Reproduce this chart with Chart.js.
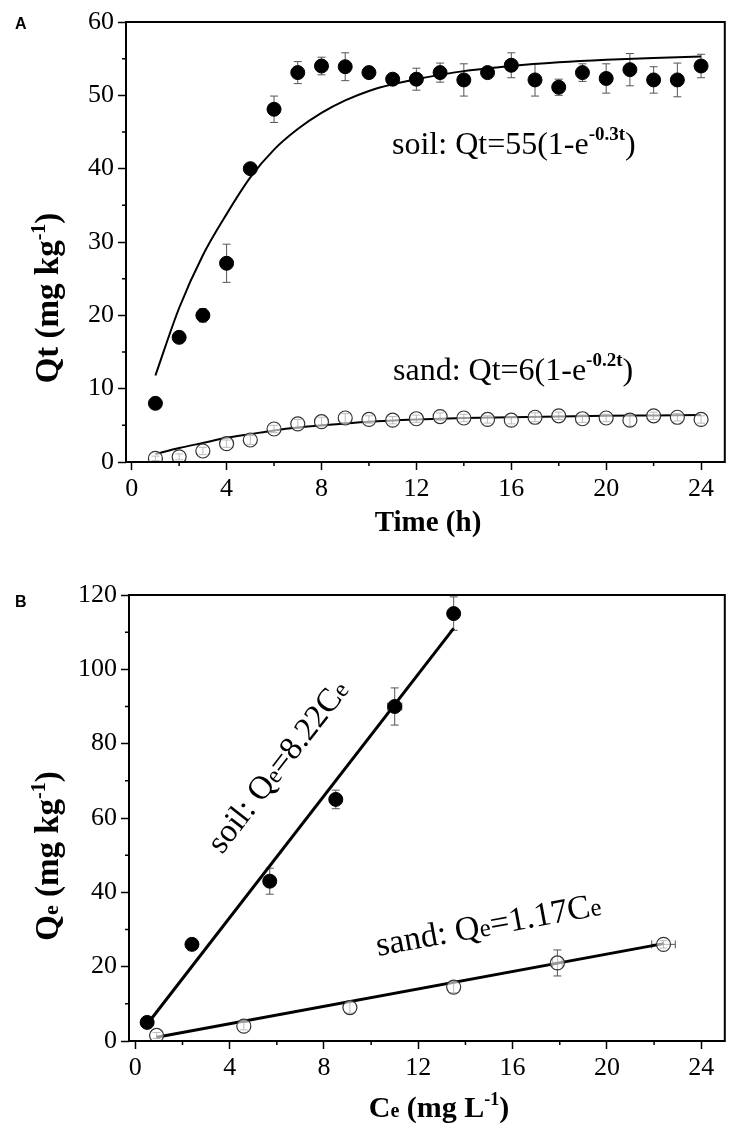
<!DOCTYPE html>
<html>
<head>
<meta charset="utf-8">
<script src="https://cdn.jsdelivr.net/npm/chart.js@4.4.1/dist/chart.umd.min.js"></script>
<style>
  body { margin: 0; background: #fff; }
  #wrap { position: relative; width: 733px; height: 1130px; }
  canvas { position: absolute; left: 0; }
  #chartA { top: 0; }
  #chartB { top: 570px; }
</style>
</head>
<body>
<div id="wrap">
  <canvas id="chartA" width="733" height="570"></canvas>
  <canvas id="chartB" width="733" height="560"></canvas>
</div>
<script>
// ---- panel A: adsorption kinetics ----
const timeH = [1, 2, 3, 4, 5, 6, 7, 8, 9, 10, 11, 12, 13, 14, 15, 16, 17, 18, 19, 20, 21, 22, 23, 24];
const soilQt = [8, 17, 20, 27.1, 40, 48.1, 53.1, 54, 53.9, 53.1, 52.2, 52.2, 53.1, 52.1, 53.1, 54.1, 52.1, 51.1, 53.1, 52.3, 53.5, 52.1, 52.1, 54];
const soilQtErr = [0.4, 0.7, 0.9, 2.6, 0.4, 1.8, 1.5, 1.2, 1.9, 0.6, 0.7, 1.5, 1.3, 2.2, 0.5, 1.7, 2.2, 1.1, 1.2, 2, 2.2, 1.8, 2.3, 1.6];
const sandQt = [0.5, 0.7, 1.5, 2.5, 3, 4.5, 5.2, 5.5, 6, 5.8, 5.7, 5.9, 6.2, 6, 5.8, 5.7, 6.1, 6.3, 5.9, 6, 5.7, 6.3, 6.1, 5.8];
const sandQtErr = [0.3, 0.4, 0.5, 0.5, 0.6, 0.5, 0.6, 0.6, 0.6, 0.5, 0.5, 0.5, 0.5, 0.5, 0.5, 0.5, 0.6, 0.5, 0.5, 0.5, 0.8, 0.5, 0.5, 0.5];
// fitted curves
const soilFitT = [1, 2, 3, 4, 5, 6, 7, 8, 9, 10, 11, 12, 14, 16, 18, 20, 22, 24];
const soilFitQt = [11.8, 21, 28.2, 33.8, 38.8, 42.6, 45.4, 47.6, 49.3, 50.6, 51.5, 52.2, 53.3, 54, 54.5, 54.85, 55.1, 55.3];
const sandFitT = [1, 2, 3, 4, 5, 6, 7, 8, 10, 12, 14, 16, 18, 20, 22, 24];
const sandFitQt = [1.1, 1.9, 2.6, 3.3, 3.8, 4.3, 4.7, 5, 5.5, 5.8, 6, 6.1, 6.2, 6.3, 6.35, 6.4];
const xTicksA = [0, 4, 8, 12, 16, 20, 24];
const yTicksA = [0, 10, 20, 30, 40, 50, 60];

// ---- panel B: adsorption isotherm ----
const soilCe = [0.5, 2.4, 5.7, 8.5, 11, 13.5];
const soilQe = [5, 26, 43, 65, 90, 115];
const soilQeErr = [0.8, 1.2, 3.5, 2.5, 5, 4.5];
const soilCeErr = [0, 0, 0, 0, 0.3, 0];
const sandCe = [0.9, 4.6, 9.1, 13.5, 17.9, 22.4];
const sandQe = [1.5, 4, 9, 14.5, 21, 26];
const sandQeErr = [0.8, 1, 1.5, 1.5, 3.5, 1];
const sandCeErr = [0, 0, 0, 0, 0.2, 0.5];
const soilLineCe = [0.5, 13.5];
const soilLineQe = [4.5, 111];
const sandLineCe = [0.9, 22.4];
const sandLineQe = [1, 26.2];
const xTicksB = [0, 4, 8, 12, 16, 20, 24];
const yTicksB = [0, 20, 40, 60, 80, 100, 120];

const SERIF = '"Liberation Serif", "DejaVu Serif", serif';
const pts = (xs, ys) => xs.map((x, i) => ({ x: x, y: ys[i] }));
const midpoints = arr => arr.slice(1).map((v, i) => (v + arr[i]) / 2);

// rich text: parts drawn one after another on a common baseline
function drawRich(ctx, parts, x, y, angle, align) {
  ctx.save();
  ctx.translate(x, y);
  ctx.rotate(angle || 0);
  ctx.fillStyle = '#000';
  ctx.textBaseline = 'alphabetic';
  let total = 0;
  parts.forEach(p => { ctx.font = p.font; total += ctx.measureText(p.text).width; });
  let cx = align === 'center' ? -total / 2 : 0;
  parts.forEach(p => {
    ctx.font = p.font;
    ctx.fillText(p.text, cx, p.dy || 0);
    cx += ctx.measureText(p.text).width;
  });
  ctx.restore();
}

// frame, minor ticks, error bars and text
const decorPlugin = {
  id: 'decor',
  beforeDatasetsDraw(chart, args, opts) {
    const { ctx, scales } = chart;
    ctx.save();
    ctx.strokeStyle = '#555';
    ctx.lineWidth = 1;
    (opts.errors || []).forEach(e => {
      e.xs.forEach((xv, i) => {
        const px = scales.x.getPixelForValue(xv);
        const py = scales.y.getPixelForValue(e.ys[i]);
        if (e.yErr[i]) {
          const top = scales.y.getPixelForValue(e.ys[i] + e.yErr[i]);
          const bot = scales.y.getPixelForValue(e.ys[i] - e.yErr[i]);
          ctx.beginPath();
          ctx.moveTo(px, top); ctx.lineTo(px, bot);
          ctx.moveTo(px - 4, top); ctx.lineTo(px + 4, top);
          ctx.moveTo(px - 4, bot); ctx.lineTo(px + 4, bot);
          ctx.stroke();
        }
        if (e.xErr && e.xErr[i]) {
          const l = scales.x.getPixelForValue(xv - e.xErr[i]);
          const r = scales.x.getPixelForValue(xv + e.xErr[i]);
          ctx.beginPath();
          ctx.moveTo(l, py); ctx.lineTo(r, py);
          ctx.moveTo(l, py - 4); ctx.lineTo(l, py + 4);
          ctx.moveTo(r, py - 4); ctx.lineTo(r, py + 4);
          ctx.stroke();
        }
      });
    });
    ctx.restore();
  },
  afterDraw(chart, args, opts) {
    const { ctx, chartArea: a, scales } = chart;
    ctx.save();
    ctx.strokeStyle = '#000';
    ctx.lineWidth = 2;
    ctx.strokeRect(a.left, a.top, a.right - a.left, a.bottom - a.top);
    ctx.lineWidth = 1.5;
    ctx.beginPath();
    opts.xMinor.forEach(v => {
      const px = scales.x.getPixelForValue(v);
      ctx.moveTo(px, a.bottom); ctx.lineTo(px, a.bottom + 4);
    });
    opts.yMinor.forEach(v => {
      const py = scales.y.getPixelForValue(v);
      ctx.moveTo(a.left, py); ctx.lineTo(a.left - 4, py);
    });
    ctx.stroke();
    ctx.restore();
    (opts.texts || []).forEach(t => {
      let ang = t.angle || 0;
      if (t.along) {
        const x1 = scales.x.getPixelForValue(t.along[0][0]), y1 = scales.y.getPixelForValue(t.along[0][1]);
        const x2 = scales.x.getPixelForValue(t.along[1][0]), y2 = scales.y.getPixelForValue(t.along[1][1]);
        ang = Math.atan2(y2 - y1, x2 - x1);
      }
      drawRich(ctx, t.parts, t.x, t.y, ang, t.align);
    });
  }
};

function axisOpts(ticks, min, max, fitFn) {
  return {
    type: 'linear',
    min: min,
    max: max,
    afterBuildTicks: s => { s.ticks = ticks.map(v => ({ value: v })); },
    afterFit: fitFn,
    border: { display: false },
    grid: { drawOnChartArea: false, drawTicks: true, tickLength: 8, tickColor: '#000', tickWidth: 1.5 },
    ticks: { color: '#000', padding: 4, font: { family: SERIF, size: 26 } }
  };
}

const f = (w, s) => (w ? 'bold ' : '') + s + 'px ' + SERIF;

// ---------- chart A ----------
new Chart(document.getElementById('chartA'), {
  type: 'scatter',
  data: {
    datasets: [
      { data: pts(timeH, soilQt), pointRadius: 7, pointBackgroundColor: '#000', pointBorderColor: '#000', pointBorderWidth: 1 },
      { data: pts(timeH, sandQt), pointRadius: 7, pointBackgroundColor: 'rgba(255,255,255,0.6)', pointBorderColor: '#333', pointBorderWidth: 1.2 },
      { data: pts(soilFitT, soilFitQt), showLine: true, pointRadius: 0, borderColor: '#000', borderWidth: 2, cubicInterpolationMode: 'monotone' },
      { data: pts(sandFitT, sandFitQt), showLine: true, pointRadius: 0, borderColor: '#000', borderWidth: 2, cubicInterpolationMode: 'monotone' }
    ]
  },
  options: {
    responsive: false,
    animation: false,
    layout: { padding: { top: 22, right: 7, left: 0, bottom: 0 } },
    scales: {
      x: axisOpts(xTicksA, -0.24, 25, s => { s.height = 108; }),
      y: axisOpts(yTicksA, 0, 60, s => { s.width = 126; })
    },
    plugins: {
      legend: { display: false },
      tooltip: { enabled: false },
      decor: {
        xMinor: midpoints(xTicksA),
        yMinor: midpoints(yTicksA),
        errors: [
          { xs: timeH, ys: soilQt, yErr: soilQtErr },
          { xs: timeH, ys: sandQt, yErr: sandQtErr }
        ],
        texts: [
          { x: 392, y: 154, parts: [{ text: 'soil: Qt=55(1-e', font: f(false, 32) }, { text: '-0.3t', font: f(true, 19), dy: -14 }, { text: ')', font: f(false, 32) }] },
          { x: 393, y: 380, parts: [{ text: 'sand: Qt=6(1-e', font: f(false, 32) }, { text: '-0.2t', font: f(true, 19), dy: -14 }, { text: ')', font: f(false, 32) }] },
          { x: 58, y: 298, angle: -Math.PI / 2, align: 'center', parts: [{ text: 'Qt (mg kg', font: f(true, 33) }, { text: '-1', font: f(true, 20), dy: -13 }, { text: ')', font: f(true, 33) }] },
          { x: 428, y: 531, align: 'center', parts: [{ text: 'Time (h)', font: f(true, 29) }] },
          { x: 15, y: 29, parts: [{ text: 'A', font: 'bold 16px "Liberation Sans", Arial, sans-serif' }] }
        ]
      }
    }
  },
  plugins: [decorPlugin]
});

// ---------- chart B ----------
new Chart(document.getElementById('chartB'), {
  type: 'scatter',
  data: {
    datasets: [
      { data: pts(soilCe, soilQe), pointRadius: 7, pointBackgroundColor: '#000', pointBorderColor: '#000', pointBorderWidth: 1 },
      { data: pts(sandCe, sandQe), pointRadius: 7, pointBackgroundColor: 'rgba(255,255,255,0.6)', pointBorderColor: '#333', pointBorderWidth: 1.2 },
      { data: pts(soilLineCe, soilLineQe), showLine: true, pointRadius: 0, borderColor: '#000', borderWidth: 3 },
      { data: pts(sandLineCe, sandLineQe), showLine: true, pointRadius: 0, borderColor: '#000', borderWidth: 3 }
    ]
  },
  options: {
    responsive: false,
    animation: false,
    layout: { padding: { top: 25, right: 1, left: 0, bottom: 0 } },
    scales: {
      x: axisOpts(xTicksB, -0.27, 25, s => { s.height = 89; }),
      y: axisOpts(yTicksB, 0, 120, s => { s.width = 129; })
    },
    plugins: {
      legend: { display: false },
      tooltip: { enabled: false },
      decor: {
        xMinor: midpoints(xTicksB),
        yMinor: midpoints(yTicksB),
        errors: [
          { xs: soilCe, ys: soilQe, yErr: soilQeErr, xErr: soilCeErr },
          { xs: sandCe, ys: sandQe, yErr: sandQeErr, xErr: sandCeErr }
        ],
        texts: [
          { x: 222, y: 285, along: [[soilLineCe[0], soilLineQe[0]], [soilLineCe[1], soilLineQe[1]]],
            parts: [{ text: 'soil: Q', font: f(false, 33) }, { text: 'e', font: f(false, 24) }, { text: '=8.22C', font: f(false, 33) }, { text: 'e', font: f(false, 24) }] },
          { x: 378, y: 386, along: [[sandLineCe[0], sandLineQe[0]], [sandLineCe[1], sandLineQe[1]]],
            parts: [{ text: 'sand: Q', font: f(false, 34) }, { text: 'e', font: f(false, 25) }, { text: '=1.17C', font: f(false, 34) }, { text: 'e', font: f(false, 25) }] },
          { x: 58, y: 286, angle: -Math.PI / 2, align: 'center', parts: [{ text: 'Q', font: f(true, 33) }, { text: 'e', font: f(true, 22) }, { text: ' (mg kg', font: f(true, 33) }, { text: '-1', font: f(true, 20), dy: -13 }, { text: ')', font: f(true, 33) }] },
          { x: 439, y: 547, align: 'center', parts: [{ text: 'C', font: f(true, 30) }, { text: 'e', font: f(true, 20) }, { text: ' (mg L', font: f(true, 30) }, { text: '-1', font: f(true, 18), dy: -12 }, { text: ')', font: f(true, 30) }] },
          { x: 15, y: 37, parts: [{ text: 'B', font: 'bold 16px "Liberation Sans", Arial, sans-serif' }] }
        ]
      }
    }
  },
  plugins: [decorPlugin]
});
</script>
</body>
</html>
